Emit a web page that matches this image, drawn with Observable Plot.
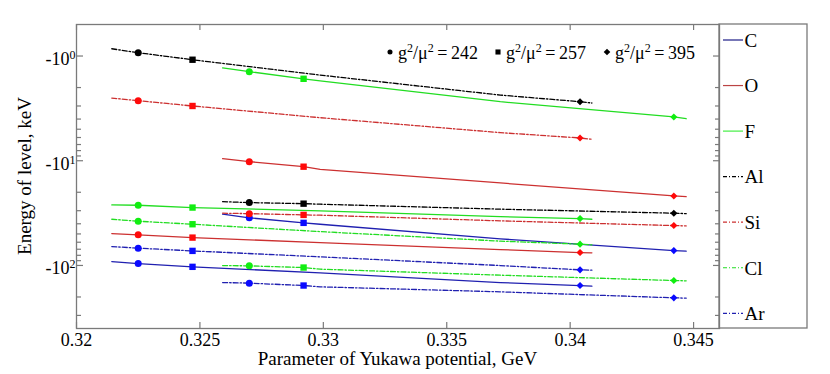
<!DOCTYPE html>
<html><head><meta charset="utf-8">
<script src="https://cdn.jsdelivr.net/npm/d3@7"></script>
<script src="https://cdn.jsdelivr.net/npm/@observablehq/plot@0.6"></script>
<style>
body{margin:0;background:#fff;}
#chart svg{display:block;}
</style>
</head><body><div id="chart"></div>
<script>
// ---------- data ----------
const elements = ["C", "O", "F", "Al", "Si", "Cl", "Ar"];
const couplings = [242, 257, 395];            // g^2/mu^2
const markerShapes = ["circle", "square", "diamond2"];
const markerIndex = [1, 2, 5];                  // which point of each curve carries a marker
const xTicks = [0.32, 0.325, 0.33, 0.335, 0.34, 0.345];
const yMajor = [-1, -10, -100];
const yMinor = [-2, -3, -4, -5, -6, -7, -8, -9, -20, -30, -40, -50, -60, -70, -80, -90, -200, -300];

// Yukawa parameter mu (GeV) of the curve points, two families of curves
const muA = [0.32143, 0.3225, 0.3247, 0.32987, 0.33717, 0.3404, 0.34088];
const muB = [0.32592, 0.3270, 0.3292, 0.32987, 0.33717, 0.3442, 0.3447];

// level energies (keV)
const E_C_A  = [-91.8, -95.9, -103.1, -117.7, -145.6, -155.5, -157.6];
const E_O_A  = [-49.6, -51.0, -54.2, -60.5, -70.5, -75.3, -75.8];
const E_F_A  = [-26.4, -26.6, -28.0, -30.1, -34.2, -35.7, -36.2];
const E_Al_A = [-0.852, -0.930, -1.085, -1.52, -2.36, -2.73, -2.81];
const E_Si_A = [-2.52, -2.67, -3.00, -3.88, -5.39, -6.06, -6.24];
const E_Cl_A = [-36.2, -37.8, -40.4, -47.5, -58.6, -62.6, -63.6];
const E_Ar_A = [-66.0, -68.4, -72.6, -82.8, -100.2, -110.2, -110.9];
const E_C_B  = [-32.4, -35.1, -39.2, -40.4, -55.7, -72.1, -73.0];
const E_O_B  = [-9.55, -10.2, -11.4, -12.1, -16.3, -21.7, -22.0];
const E_F_B  = [-1.30, -1.41, -1.65, -1.73, -2.73, -3.82, -3.97];
const E_Al_B = [-24.6, -25.1, -25.7, -26.0, -29.0, -31.7, -32.0];
const E_Si_B = [-31.7, -32.0, -32.9, -33.1, -37.5, -41.6, -41.9];
const E_Cl_B = [-100.2, -100.9, -104.7, -108.5, -123.8, -139.3, -140.3];
const E_Ar_B = [-145.6, -147.5, -155.5, -160.0, -178.6, -203.8, -205.1];

// ---------- styles ----------
const FONT = "Liberation Serif, Times New Roman, serif";
const GRAY = "#7a7a7a";
const DASH = "5,2,1.5,2";
const lineColor = {C: "#2020b0", O: "#cc3030", F: "#22dd22", Al: "#000000", Si: "#cc3030", Cl: "#22dd22", Ar: "#2020b0"};
const legendColor = {C: "#1c1c86", O: "#bb4444", F: "#44ee44", Al: "#000000", Si: "#cc3030", Cl: "#22dd22", Ar: "#2020b0"};
const markColor = {C: "#0a0aff", O: "#ff0a0a", F: "#11ee11", Al: "#000000", Si: "#ff0a0a", Cl: "#11ee11", Ar: "#0a0aff"};
const dashed = {C: false, O: false, F: false, Al: true, Si: true, Cl: true, Ar: true};

const seriesList = [
  ["C", "A", muA, E_C_A], ["O", "A", muA, E_O_A], ["F", "A", muA, E_F_A], ["Al", "A", muA, E_Al_A],
  ["Si", "A", muA, E_Si_A], ["Cl", "A", muA, E_Cl_A], ["Ar", "A", muA, E_Ar_A],
  ["C", "B", muB, E_C_B], ["O", "B", muB, E_O_B], ["F", "B", muB, E_F_B], ["Al", "B", muB, E_Al_B],
  ["Si", "B", muB, E_Si_B], ["Cl", "B", muB, E_Cl_B], ["Ar", "B", muB, E_Ar_B]
];

const rows = [];
const marks = [];
for (const [el, grp, mus, es] of seriesList) {
  mus.forEach((mu, i) => {
    rows.push({key: el + grp, el, mu, E: es[i], color: lineColor[el], dashed: dashed[el]});
  });
  markerIndex.forEach((idx, k) => {
    marks.push({el, mu: mus[idx], E: es[idx], color: markColor[el], shape: markerShapes[k], g: couplings[k]});
  });
}

const W = 830, H = 374, ML = 76, MR = 111, MT = 24, MB = 46;
const PW = W - ML - MR, PH = H - MT - MB;

const chart = Plot.plot({
  width: W, height: H,
  marginLeft: ML, marginRight: MR, marginTop: MT, marginBottom: MB,
  style: {fontFamily: FONT, fontSize: "18px", background: "#fff", color: "#000"},
  x: {domain: [0.32, 0.34605], axis: null},
  y: {type: "log", domain: [-400, -0.5], axis: null},
  color: {type: "identity"},
  marks: [
    // inward ticks
    Plot.tickX(xTicks, {x: d => d, stroke: GRAY, strokeWidth: 1.2, insetBottom: PH - 6}),
    Plot.tickX(xTicks, {x: d => d, stroke: GRAY, strokeWidth: 1.2, insetTop: PH - 6}),
    Plot.tickY(yMajor, {y: d => d, stroke: GRAY, strokeWidth: 1.2, insetRight: PW - 7}),
    Plot.tickY(yMinor, {y: d => d, stroke: GRAY, strokeWidth: 1.2, insetRight: PW - 5}),
    Plot.tickY(yMajor, {y: d => d, stroke: GRAY, strokeWidth: 1.2, insetLeft: PW - 6}),
    Plot.tickY(yMinor, {y: d => d, stroke: GRAY, strokeWidth: 1.2, insetLeft: PW - 4}),
    // curves
    Plot.line(rows.filter(d => !d.dashed), {x: "mu", y: "E", z: "key", stroke: "color", strokeWidth: 1.3}),
    Plot.line(rows.filter(d => d.dashed), {x: "mu", y: "E", z: "key", stroke: "color", strokeWidth: 1.3, strokeDasharray: DASH}),
    // markers
    Plot.dot(marks.filter(d => d.shape === "circle"), {x: "mu", y: "E", fill: "color", r: 3.5, symbol: "circle"}),
    Plot.dot(marks.filter(d => d.shape === "square"), {x: "mu", y: "E", fill: "color", r: 3.6, symbol: "square"}),
    Plot.dot(marks.filter(d => d.shape === "diamond2"), {x: "mu", y: "E", fill: "color", r: 3.2, symbol: "diamond2"}),
    Plot.frame({stroke: GRAY, strokeWidth: 1.3}),
    // tick labels, placed through the scales
    Plot.text(xTicks, {x: d => d, frameAnchor: "bottom", dy: 17.5, text: d => String(+d.toFixed(3)),
      fontFamily: FONT, fontSize: 18, fill: "#000", lineAnchor: "bottom", textAnchor: "middle"}),
    Plot.text(yMajor, {y: d => d, frameAnchor: "left", dx: -1, dy: 3, text: d => "-10|" + Math.round(Math.log10(-d)),
      fontFamily: FONT, fontSize: 18, fill: "#000", textAnchor: "end", lineAnchor: "middle"})
  ]
});
document.getElementById("chart").appendChild(chart);

const svg = d3.select(chart);
svg.attr("font-family", FONT);
// superscript exponents in y tick labels
svg.selectAll("text").each(function () {
  const t = this.textContent;
  if (t.includes("|")) {
    const [b, e] = t.split("|");
    const s = d3.select(this);
    s.text(b);
    s.append("tspan").attr("dy", -6).attr("font-size", 12).text(e);
  }
});

const ov = svg.append("g").attr("font-family", FONT).attr("font-size", 19)
  .attr("fill", "#000").attr("text-anchor", "start");

// axis titles
ov.append("text").attr("x", ML + PW / 2).attr("y", 365).attr("text-anchor", "middle")
  .text("Parameter of Yukawa potential, GeV");
ov.append("text").attr("transform", `translate(31,${MT + PH / 2}) rotate(-90)`).attr("text-anchor", "middle")
  .text("Energy of level, keV");

// element legend box
const LX = ML + PW, LW = 88;
ov.append("rect").attr("x", LX).attr("y", MT).attr("width", LW).attr("height", PH)
  .attr("fill", "none").attr("stroke", GRAY).attr("stroke-width", 1.3);
elements.forEach((el, i) => {
  const y = 40 + i * 45.55;
  ov.append("line").attr("x1", LX + 4).attr("x2", LX + 24).attr("y1", y).attr("y2", y)
    .attr("stroke", legendColor[el]).attr("stroke-width", 1.2)
    .attr("stroke-dasharray", dashed[el] ? "4,2,1,2" : null);
  ov.append("text").attr("x", LX + 25.5).attr("y", y).attr("dy", "0.36em").text(el);
});

// marker legend (g^2/mu^2 values)
const mlX = [390, 498, 607];
const mlSym = [d3.symbolCircle, d3.symbolSquare, d3.symbolDiamond2];
const mlSize = [20, 26, 28];
couplings.forEach((gval, k) => {
  const x = mlX[k], y = 52;
  ov.append("path").attr("transform", `translate(${x},${y})`)
    .attr("d", d3.symbol(mlSym[k], mlSize[k])()).attr("fill", "#000");
  const t = ov.append("text").attr("x", x + 8).attr("y", 59).attr("font-size", 18);
  t.append("tspan").text("g");
  t.append("tspan").attr("dy", -7).attr("font-size", 12).text("2");
  t.append("tspan").attr("dy", 7).text("/\u03bc");
  t.append("tspan").attr("dy", -7).attr("font-size", 12).text("2");
  t.append("tspan").attr("dy", 7).text("\u2009=\u2009" + gval);
});
</script>
</body></html>
